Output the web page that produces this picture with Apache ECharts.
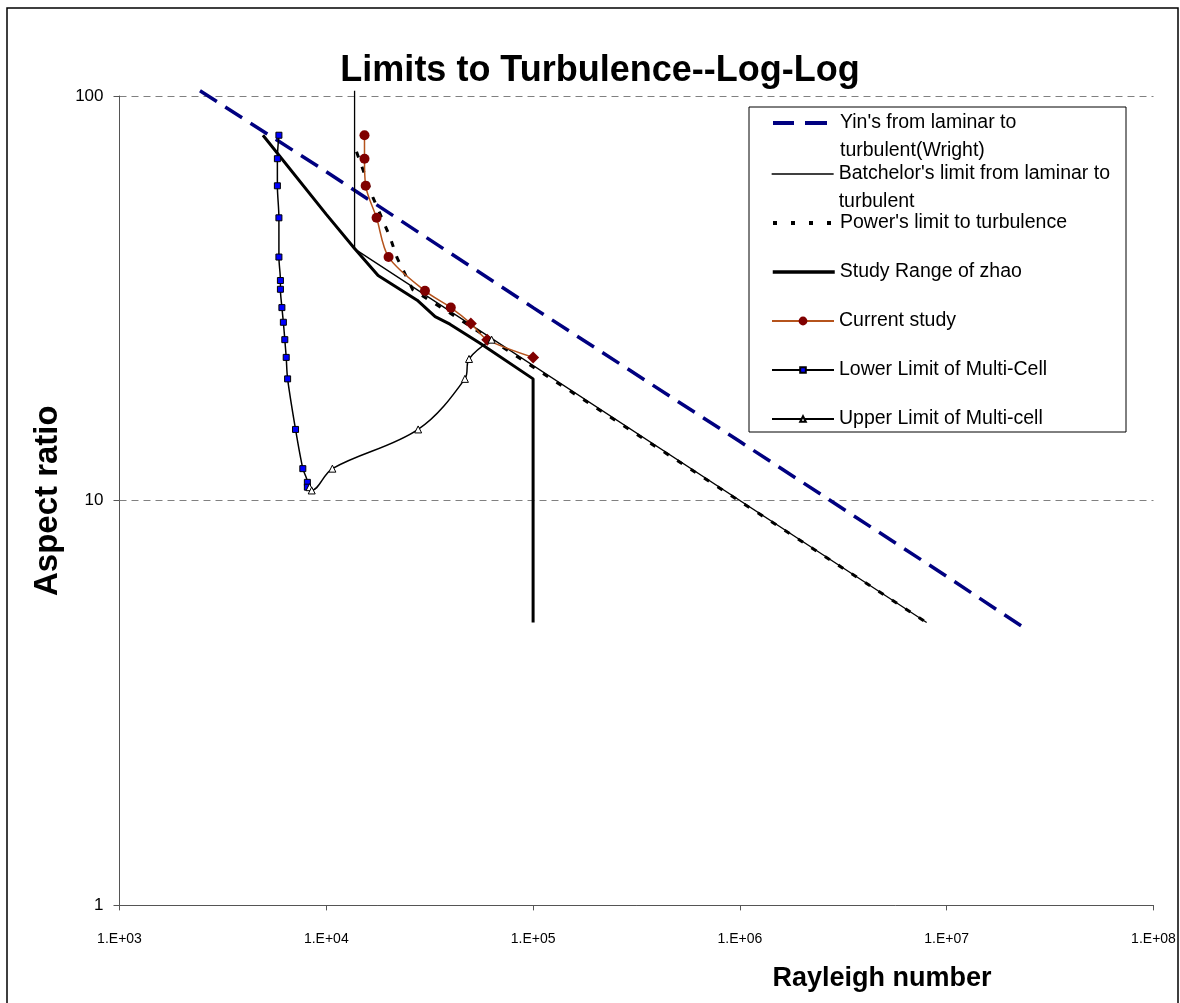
<!DOCTYPE html>
<html><head><meta charset="utf-8">
<script src="https://cdn.jsdelivr.net/npm/echarts@6/dist/echarts.min.js"></script>
<style>html,body{margin:0;padding:0;background:#fff}#c{width:1180px;height:1003px}</style>
</head><body><div id="c"></div>
<script>
// ---- data ----
const xTickLabels = ['1.E+03', '1.E+04', '1.E+05', '1.E+06', '1.E+07', '1.E+08'];
const yTickLabels = ['1', '10', '100'];
const seriesNames = [
  "Yin's from laminar to turbulent(Wright)",
  "Batchelor's limit from laminar to turbulent",
  "Power's limit to turbulence",
  "Study Range of zhao",
  "Current study",
  "Lower Limit of Multi-Cell",
  "Upper Limit of Multi-cell"
];
const yinRa = [2450, 10000, 100000, 1000000, 10000000, 23000000];
const yinAR = [103, 65, 30, 14, 6.5, 4.9];
const batchRa = [13700, 13700, 8000000];
const batchAR = [103, 41.9, 5.0];
const powerRa = [14000, 16800, 20300, 22000, 26200, 39600, 8000000];
const powerAR = [72.8, 56.2, 44.9, 39.8, 33.2, 29.1, 5.0];
const zhaoRa = [4940, 10000, 13700, 17800, 27500, 33600, 39600, 55400, 100000, 100000];
const zhaoAR = [80, 51, 42, 36, 31.3, 28.5, 27.3, 24.5, 20, 5];
const currentRa = [15300, 15300, 15500, 17500, 20000, 30000, 40000, 50000, 60000, 100000];
const currentAR = [80, 70, 60, 50, 40, 33, 30, 27.4, 25, 22.6];
const currentDiamondFrom = 7;
const lowerRa = [5900, 5800, 5800, 5900, 5900, 6000, 6000, 6100, 6200, 6300, 6400, 6500, 7100, 7700, 8100, 8100];
const lowerAR = [80, 70, 60, 50, 40, 35, 33.3, 30, 27.6, 25, 22.6, 20, 15, 12, 11.1, 10.8];
const upperRa = [8300, 8500, 10700, 27800, 46800, 49000, 63000];
const upperAR = [10.8, 10.6, 12, 15, 20, 22.4, 25];

// ---- chart ----
const FONT = "'Liberation Sans',Arial,sans-serif";
const zip = (a, b) => a.map((v, i) => [v, b[i]]);
const chart = echarts.init(document.getElementById('c'), null, {renderer: 'canvas'});

const legendCenters = [123, 174, 223, 272, 321, 370, 419];
const legendIconH = [14, 14, 14, 14, 11, 7, 7];
const noSymbol = [true, true, true, true, false, false, false];
const legendLine = [
  {color: '#000080', width: 4, type: [21, 11, 22, 40]},
  {color: '#000', width: 1.3, type: 'solid'},
  {color: '#000', width: 4, type: [4, 14]},
  {color: '#000', width: 3.5, type: 'solid'},
  null, null, null
];
const twoLine = {
  [seriesNames[0]]: "\nYin's from laminar to\nturbulent(Wright)",
  [seriesNames[1]]: "\nBatchelor's limit from laminar to\nturbulent"
};
const legends = seriesNames.map((n, i) => {
  const l = {
    data: [n],
    left: 771,
    top: legendCenters[i] - (twoLine[n] ? 42 : 14),
    padding: 0,
    itemWidth: 62,
    itemHeight: legendIconH[i],
    selectedMode: false,
    formatter: nm => twoLine[nm] || nm,
    textStyle: {fontFamily: FONT, fontSize: 19.5, color: '#000', lineHeight: 28}
  };
  if (noSymbol[i]) l.itemStyle = {opacity: 0};
  if (legendLine[i]) l.lineStyle = legendLine[i];
  return l;
});

const option = {
  animation: false,
  backgroundColor: '#fff',
  title: [
    {text: 'Limits to Turbulence--Log-Log', left: 595, top: 48, textAlign: 'center',
     textStyle: {fontFamily: FONT, fontWeight: 'bold', fontSize: 36, color: '#000'}},
    {text: 'Rayleigh number', left: 877, top: 960, textAlign: 'center',
     textStyle: {fontFamily: FONT, fontWeight: 'bold', fontSize: 27, color: '#000'}}
  ],
  legend: legends,
  grid: {left: 119.5, right: 26.5, top: 96, bottom: 97.6, containLabel: false, outerBoundsMode: 'none'},
  xAxis: {
    type: 'log', logBase: 10, min: 1000, max: 100000000,
    axisLine: {show: true, lineStyle: {color: '#555', width: 1}},
    axisTick: {show: true, length: 5, lineStyle: {color: '#555'}},
    minorTick: {show: false},
    splitLine: {show: false},
    axisLabel: {
      margin: 27, color: '#000', fontFamily: FONT, fontSize: 14,
      formatter: v => xTickLabels[Math.round(Math.log10(v)) - 3]
    }
  },
  yAxis: {
    type: 'log', logBase: 10, min: 1, max: 100,
    name: 'Aspect ratio', nameLocation: 'middle', nameGap: 45,
    nameTextStyle: {fontFamily: FONT, fontWeight: 'bold', fontSize: 33, color: '#000'},
    axisLine: {show: true, lineStyle: {color: '#555', width: 1}},
    axisTick: {show: true, length: 6, lineStyle: {color: '#555'}},
    minorTick: {show: false},
    splitLine: {show: true, lineStyle: {type: [7, 5], color: '#808080', width: 1}},
    axisLabel: {
      margin: 16, color: '#000', fontFamily: FONT, fontSize: 17,
      formatter: v => yTickLabels[Math.round(Math.log10(v))]
    }
  },
  series: [
    {name: seriesNames[0], type: 'line', data: zip(yinRa, yinAR), clip: false,
     symbol: 'none', lineStyle: {color: '#000080', width: 3.5, type: [20, 10]}, itemStyle: {color: '#000080'}},
    {name: seriesNames[1], type: 'line', data: zip(batchRa, batchAR), clip: false,
     symbol: 'none', lineStyle: {color: '#000', width: 1.3}, itemStyle: {color: '#000'}},
    {name: seriesNames[2], type: 'line', data: zip(powerRa, powerAR),
     symbol: 'none', lineStyle: {color: '#000', width: 3, type: [6, 10]}, itemStyle: {color: '#000'}},
    {name: seriesNames[3], type: 'line', data: zip(zhaoRa, zhaoAR),
     symbol: 'none', lineStyle: {color: '#000', width: 3}, itemStyle: {color: '#000'}},
    {name: seriesNames[4], type: 'line', smooth: 0.3,
     data: zip(currentRa, currentAR).map((p, i) => i >= currentDiamondFrom ? {value: p, symbol: 'diamond', symbolSize: 12} : p),
     symbol: 'circle', symbolSize: 10, showAllSymbol: true,
     lineStyle: {color: '#B5531C', width: 1.5}, itemStyle: {color: '#800000', borderWidth: 0}},
    {name: seriesNames[5], type: 'line', smooth: 0.3, data: zip(lowerRa, lowerAR),
     symbol: 'rect', symbolSize: 6, showAllSymbol: true,
     lineStyle: {color: '#000', width: 1.5}, itemStyle: {color: '#0000FF', borderColor: '#000', borderWidth: 1}},
    {name: seriesNames[6], type: 'line', smooth: 0.35, data: zip(upperRa, upperAR),
     symbol: 'triangle', symbolSize: 7, showAllSymbol: true,
     lineStyle: {color: '#000', width: 1.5}, itemStyle: {color: '#fff', borderColor: '#000', borderWidth: 1}}
  ],
  graphic: [
    {type: 'rect', silent: true, shape: {x: 7, y: 8, width: 1171, height: 1010},
     style: {fill: 'none', stroke: '#000', lineWidth: 1.5}},
    {type: 'rect', silent: true, shape: {x: 749, y: 107, width: 377, height: 325},
     style: {fill: 'none', stroke: '#000', lineWidth: 1}}
  ]
};
chart.setOption(option);
</script>
</body></html>
